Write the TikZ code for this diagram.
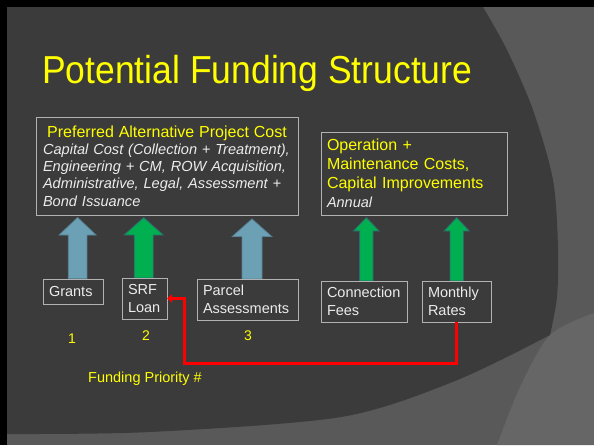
\documentclass[tikz,border=0pt]{standalone}
\usepackage{fontspec}
\setmainfont{Liberation Sans}
\newfontfamily\titlefont[FakeStretch=0.91]{Liberation Sans}
\usetikzlibrary{arrows.meta}
\definecolor{bgdark}{RGB}{59,59,59}
\definecolor{bgmid}{RGB}{89,89,89}
\definecolor{bglight}{RGB}{102,102,102}
\definecolor{ttl}{RGB}{255,255,0}
\definecolor{txt}{RGB}{236,236,236}
\definecolor{boxline}{RGB}{178,178,178}
\definecolor{arrblue}{RGB}{108,160,180}
\definecolor{arrblueline}{RGB}{88,132,150}
\definecolor{arrgreen}{RGB}{0,176,80}
\definecolor{arrgreenline}{RGB}{52,100,112}
\newcommand\blockup[7]{%
  \filldraw[#1] ({#2-#3},#7) -- ({#2-#3},#6) -- ({#2-#4},#6) -- (#2,#5) --
    ({#2+#4},#6) -- ({#2+#3},#6) -- ({#2+#3},#7) -- cycle;}
\begin{document}
\begin{tikzpicture}[x=1pt,y=-1pt,
  box/.style={draw=boxline, line width=0.8pt, anchor=north west, outer sep=0pt,
    inner ysep=0pt, align=left, text=txt},
  smallbox/.style={box, inner xsep=6pt, font=\fontsize{14.5}{18}\selectfont},
  bluearr/.style={fill=arrblue, draw=arrblueline, line width=0.8pt},
  greenarr/.style={fill=arrgreen, draw=arrgreenline, line width=0.8pt},
  num/.style={anchor=base, inner sep=0pt, text=ttl, font=\fontsize{14}{16}\selectfont},
  redline/.style={draw=red, line width=3pt, -{Triangle[length=5pt,width=8pt]}}]
\useasboundingbox (0,0) rectangle (594,445);
% background
\fill[black] (0,0) rectangle (594,445);
\fill[bgmid] (7,7) rectangle (594,445);
\fill[bglight] plot[smooth] coordinates {(594,313) (550,335) (520,387) (497,445)} -- (594,445) -- cycle;
\fill[bgdark] (7,7) -- (483,7) -- plot[smooth] coordinates {(483,7) (507,50) (533,110) (553,180) (558,247) (557,297) (550,335)}
  -- plot[smooth] coordinates {(550,335) (455,381) (341,417) (150,432) (7,434)} -- cycle;
% title
\node[anchor=base west, inner sep=0pt, text=ttl, font=\titlefont\fontsize{39}{44}\selectfont] (title) at (42,83) {Potential Funding Structure};
% cost boxes
\node[box, inner xsep=7pt, text width=248pt, minimum height=98pt, font=\fontsize{14.6}{17.2}\selectfont\itshape] (capital) at (36,117)
 {{\color{ttl}\upshape\fontsize{16}{17.2}\selectfont\makebox[\linewidth][c]{Preferred Alternative Project Cost}}\\
  Capital Cost (Collection + Treatment),\\ Engineering + CM, ROW Acquisition,\\ Administrative, Legal, Assessment +\\ Bond Issuance};
\node[box, inner xsep=6pt, text width=174pt, minimum height=83pt, text=ttl, font=\fontsize{16}{19}\selectfont] (om) at (321,132)
 {Operation +\\ Maintenance Costs,\\ Capital Improvements\\ {\color{txt}\itshape\fontsize{14.5}{18}\selectfont Annual}};
% block arrows
\blockup{bluearr}{77.6}{9.3}{18.4}{217.5}{235}{278.5}
\blockup{greenarr}{143.7}{9.5}{19.7}{217.5}{235}{278}
\blockup{bluearr}{252}{10}{19.7}{219}{236.5}{279}
\blockup{greenarr}{366.3}{6.7}{13}{217.5}{231}{281}
\blockup{greenarr}{456.7}{6.7}{12.7}{217.5}{231}{281}
% funding source boxes
\node[smallbox, text width=48pt, minimum height=25pt] (grants) at (43,279) {Grants};
\node[smallbox, text width=33pt, minimum height=41pt] (srf) at (122,278) {SRF\\Loan};
\node[smallbox, text width=89pt, minimum height=41pt] (parcel) at (197,279) {Parcel\\Assessments};
\node[smallbox, text width=74pt, minimum height=41pt] (conn) at (321,281) {Connection\\Fees};
\node[smallbox, text width=57pt, minimum height=41pt] (monthly) at (422,281) {Monthly\\Rates};
% priorities
\node[num] (p1) at (72,343) {1};
\node[num] (p2) at (146,340) {2};
\node[num] (p3) at (248,340) {3};
\node[anchor=base west, inner sep=0pt, text=ttl, font=\fontsize{14.5}{17}\selectfont] (prio) at (88,382) {Funding Priority \#};
% red connector
\coordinate (bend) at (184,363);
\draw[redline] (monthly.south) |- (bend) |- (srf.east);
\end{tikzpicture}
\end{document}
